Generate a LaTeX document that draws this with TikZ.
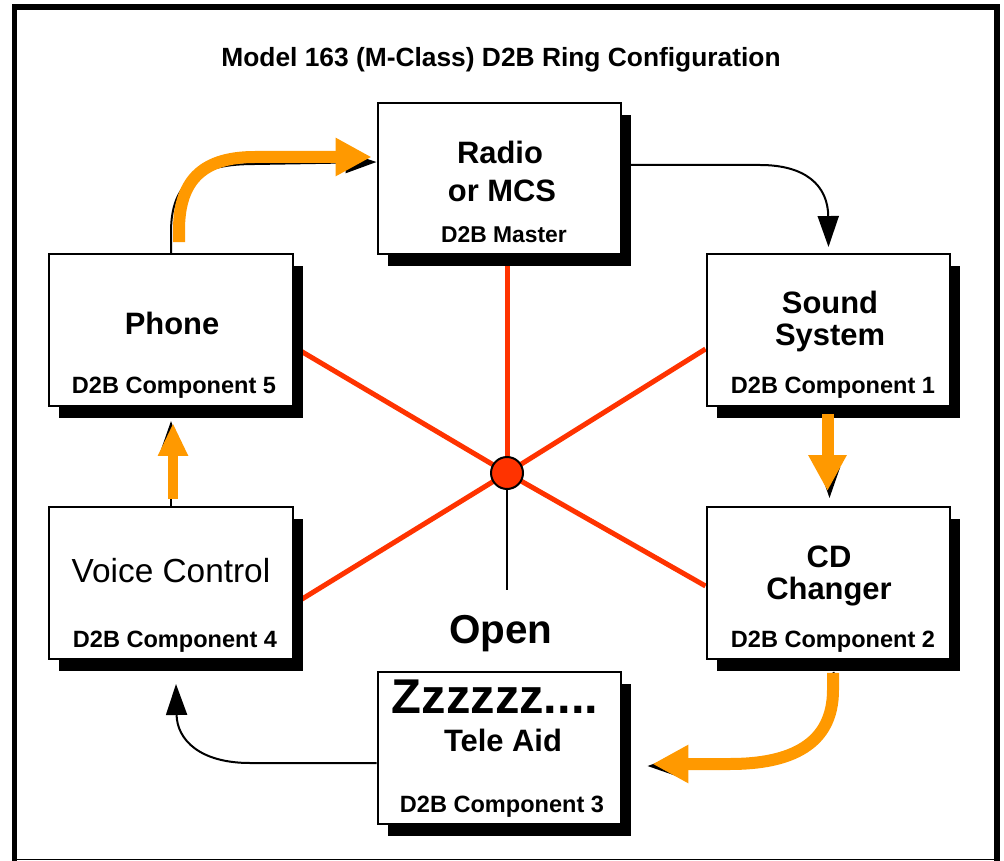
\documentclass[tikz,border=0pt]{standalone}
\usepackage{fontspec}
\setmainfont{Liberation Sans}
\usetikzlibrary{arrows.meta,shadows,calc,backgrounds}
\definecolor{busred}{RGB}{255,51,0}
\definecolor{ringorange}{RGB}{255,153,0}

\begin{document}
\begin{tikzpicture}[x=0.02cm,y=-0.02cm,
    unit/.style={draw=black,line width=0.04cm,fill=white,minimum width=4.88cm,minimum height=3.04cm,
      general shadow={fill=black,shadow xshift=0.2cm,shadow yshift=-0.24cm}},
    hub/.style={circle,draw=black,fill=busred,line width=0.04cm,minimum size=0.64cm,inner sep=0pt},
    bus/.style={draw=busred,line width=0.1cm},
    link/.style={draw=black,line width=0.04cm,-{Triangle[length=0.62cm,width=0.42cm]}},
    hilite/.style={draw=ringorange,line width=0.24cm,-{Triangle[length=0.72cm,width=0.72cm]}},
    bigtext/.style={font=\fontsize{17.6}{20}\selectfont\bfseries,anchor=base,inner sep=0pt},
    tagtext/.style={font=\fontsize{13.4}{15}\selectfont\bfseries,anchor=base,inner sep=0pt}]

    \useasboundingbox (0,0) rectangle (1004,861);

    % frame
    \draw[line width=0.11cm] (14.5,861) -- (14.5,7) -- (997,7) -- (997,861);
    \draw[line width=0.03cm] (14.5,859.5) -- (997,859.5);

    \node[font=\fontsize{15}{18}\selectfont\bfseries,anchor=base,inner sep=0pt] (title) at (501,67) {Model 163 (M-Class) D2B Ring Configuration};

    % boxes
    \node[unit] (radio) at (499.5,178.5) {};
    \node[unit] (phone) at (171,330) {};
    \node[unit] (sound) at (828.5,330) {};
    \node[unit] (cd) at (828.5,583) {};
    \node[unit] (voice) at (171,583) {};
    \node[unit] (tele) at (499.5,748) {};

    \node[bigtext] (radioA) at (500,164) {Radio};
    \node[bigtext] (radioB) at (502,202) {or MCS};
    \node[font=\fontsize{13}{15}\selectfont\bfseries,anchor=base,inner sep=0pt] (radioC) at (504,243) {D2B Master};

    \node[bigtext] (phoneA) at (172,335) {Phone};
    \node[tagtext] (phoneB) at (174,394) {D2B Component 5};

    \node[bigtext] (soundA) at (830,314) {Sound};
    \node[bigtext] (soundB) at (830,346) {System};
    \node[tagtext] (soundC) at (833,394) {D2B Component 1};

    \node[bigtext] (cdA) at (829,567) {CD};
    \node[bigtext] (cdB) at (829,599) {Changer};
    \node[tagtext] (cdC) at (833,647) {D2B Component 2};

    \node[font=\fontsize{19}{22}\selectfont,anchor=base,inner sep=0pt] (voiceA) at (171,582) {Voice Control};
    \node[tagtext] (voiceB) at (175,647) {D2B Component 4};

    \node[font=\fontsize{27.8}{30}\selectfont\bfseries,anchor=base,inner sep=0pt] (teleA) at (495,713) {Zzzzzz....};
    \node[bigtext] (teleB) at (503,751) {Tele Aid};
    \node[tagtext] (teleC) at (502,812) {D2B Component 3};

    % hub
    \node[hub] (hub) at (507,473) {};
    \coordinate (stem) at (507,590);
    \draw[line width=0.04cm] (hub) -- (stem);
    \node[font=\fontsize{23}{26}\selectfont\bfseries,anchor=base,inner sep=0pt] (open) at (501,643) {Open};

    \begin{scope}[on background layer]
        \draw[bus] (hub.center) -- (hub.center |- radio.south);
        \draw[bus] (hub.center) -- (phone.east |- 0,347);
        \draw[bus] (hub.center) -- (sound.west |- 0,349);
        \draw[bus] (hub.center) -- (voice.east |- 0,604);
        \draw[bus] (hub.center) -- (cd.west |- 0,586);
    \end{scope}

    % ring
    \draw[link] (radio.east |- 0,165) -- (760,165) .. controls (805,165) and (828,185) .. ($(sound.north)+(0,-6)$);
    \draw[link] (tele.west |- 0,763) -- (250,763) .. controls (200,763) and (177,740) .. ($(voice.south)+(5,24)$);

    \draw[link] (phone.north) -- (171,232) .. controls (171,180) and (200,164) .. (255,164) -- (radio.west |- 0,162);
    \draw[hilite,shorten >=0.1cm] ($(phone.north)+(8,-11)$) -- (179,230) .. controls (179,178) and (205,157) .. (255,157) -- (radio.west |- 0,157);

    \draw[link] (voice.north) -- ($(phone.south)+(0,14)$);
    \draw[hilite,line width=0.2cm,-{Triangle[length=0.66cm,width=0.56cm]}] ($(voice.north)+(2,-7)$) -- ($(phone.south)+(2,16)$);

    \draw[link] ($(sound.south)+(1,12)$) -- ($(cd.north)+(1,-8)$);
    \draw[hilite] ($(sound.south)+(-1,7)$) -- ($(cd.north)+(-1,-15)$);

    \draw[link,shorten >=0.5cm] ($(cd.south)+(5,12)$) -- (834,690) .. controls (834,748) and (790,766) .. (730,766) -- (tele.east |- 0,766);
    \draw[hilite,shorten >=0.6cm] ($(cd.south)+(4.5,13)$) -- (833,690) .. controls (833,745) and (790,764) .. (730,764) -- (tele.east |- 0,764);

\end{tikzpicture}
\end{document}
